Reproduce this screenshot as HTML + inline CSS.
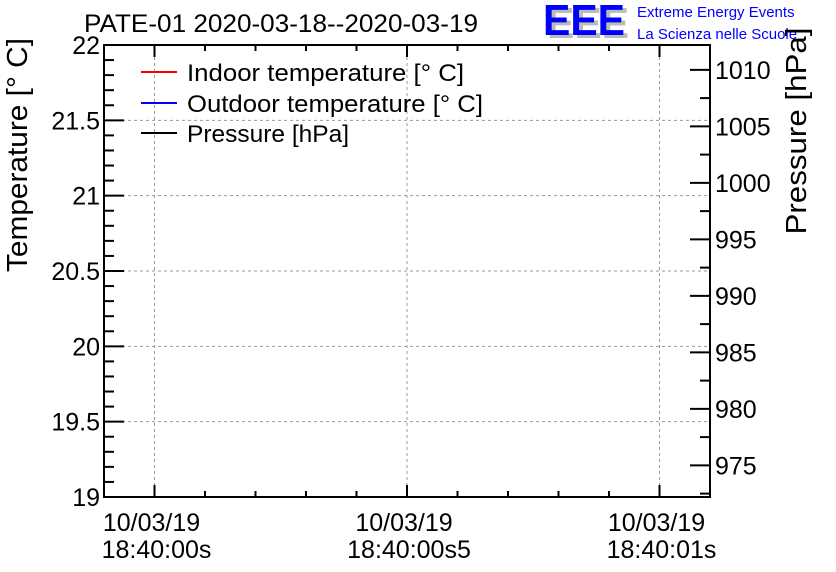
<!DOCTYPE html>
<html><head><meta charset="utf-8"><style>
html,body{margin:0;padding:0;background:#fff;}
svg{display:block;font-family:"Liberation Sans",sans-serif;}
</style></head><body>
<svg id="chart" width="836" height="572">
<text x="84" y="32" font-size="25" textLength="394" lengthAdjust="spacingAndGlyphs">PATE-01 2020-03-18--2020-03-19</text>
<g>
<text x="547" y="38" font-size="44" fill="#bbb" font-weight="bold" textLength="82" lengthAdjust="spacingAndGlyphs">EEE</text>
<text x="543" y="35" font-size="44" fill="#0000ff" font-weight="bold" textLength="82" lengthAdjust="spacingAndGlyphs">EEE</text>
<text x="637" y="17" font-size="15" fill="#0000ff">Extreme Energy Events</text>
<text x="637" y="39" font-size="15" fill="#0000ff">La Scienza nelle Scuole</text>
</g>
<g id="grid"></g><g id="axes"></g>
<text transform="translate(27,155) rotate(-90)" font-size="29" text-anchor="middle" textLength="234" lengthAdjust="spacingAndGlyphs">Temperature [° C]</text>
<text transform="translate(806,131) rotate(-90)" font-size="29" text-anchor="middle" textLength="207" lengthAdjust="spacingAndGlyphs">Pressure [hPa]</text>
<g>
<g><line x1="141" x2="177" y1="72" y2="72" stroke="#f00" stroke-width="2"/><text x="187" y="81" font-size="24.5" textLength="277" lengthAdjust="spacingAndGlyphs">Indoor temperature [° C]</text></g>
<g><line x1="141" x2="177" y1="103" y2="103" stroke="#00f" stroke-width="2"/><text x="187" y="112" font-size="24.5" textLength="296" lengthAdjust="spacingAndGlyphs">Outdoor temperature [° C]</text></g>
<g><line x1="141" x2="177" y1="133" y2="133" stroke="#000" stroke-width="2"/><text x="187" y="142" font-size="24.5">Pressure [hPa]</text></g>
</g>
</svg>
<script>
const tempTicks=[19,19.5,20,20.5,21,21.5,22];
const tempLabels=["19","19.5","20","20.5","21","21.5","22"];
const pressTicks=[975,980,985,990,995,1000,1005,1010];
const timeTicks=[0,0.5,1];
const timeLabels1=["10/03/19","10/03/19","10/03/19"];
const timeLabels2=["18:40:00s","18:40:00s5","18:40:01s"];
const L=104,R=710,T=45,B=497;
const yT=v=>B-(v-19)/3*(B-T);
const yP=v=>B-(v-972.2)/40*(B-T);
const xS=v=>L+(v+0.1)/1.2*(R-L);
const NS="http://www.w3.org/2000/svg";
const grid=document.getElementById('grid'),axes=document.getElementById('axes');
function mk(p,tag,a){const e=document.createElementNS(NS,tag);for(const k in a)e.setAttribute(k,a[k]);p.appendChild(e);return e;}
function ln(p,x1,y1,x2,y2,w){return mk(p,'line',{x1,y1,x2,y2,stroke:'#000','stroke-width':w||2});}
function gl(x1,y1,x2,y2){const e=mk(grid,'line',{x1,y1,x2,y2,stroke:'#999','stroke-width':1,'stroke-dasharray':'3,3'});

}
tempTicks.forEach((v,i)=>{const y=yT(v);if(v>19&&v<22)gl(L,y,R,y);
ln(axes,L,y,L+20,y);
const t=mk(axes,'text',{x:L-4,y:y+9,'font-size':25,'text-anchor':'end'});t.textContent=tempLabels[i];

});
for(let v=19.1;v<22;v+=0.1){if(Math.abs(v*2-Math.round(v*2))>0.01)ln(axes,L,yT(v),L+10,yT(v));}
pressTicks.forEach(v=>{const y=yP(v);ln(axes,R-20,y,R,y);
const t=mk(axes,'text',{x:R+5,y:y+9,'font-size':25});t.textContent=v;

});
for(let v=972.5;v<1012;v+=5)ln(axes,R-10,yP(v),R,yP(v));
timeTicks.forEach((v,i)=>{const x=xS(v);gl(x,T,x,B);
ln(axes,x,B,x,B-12);ln(axes,x,T,x,T+12);
const t=mk(axes,'text',{x:x-3,y:531,'font-size':25,'text-anchor':'middle'});t.textContent=timeLabels1[i];


const t2=mk(axes,'text',{x:x+2,y:558,'font-size':25,'text-anchor':'middle'});t2.textContent=timeLabels2[i];

});
for(let k=-1;k<=11;k++){if(k%5!==0){const x=xS(k/10);if(x>L&&x<R){ln(axes,x,B,x,B-6);ln(axes,x,T,x,T+6);}}}
const fr=mk(axes,'rect',{x:L,y:T,width:R-L,height:B-T,fill:'none',stroke:'#000','stroke-width':2});


</script>
</body></html>
